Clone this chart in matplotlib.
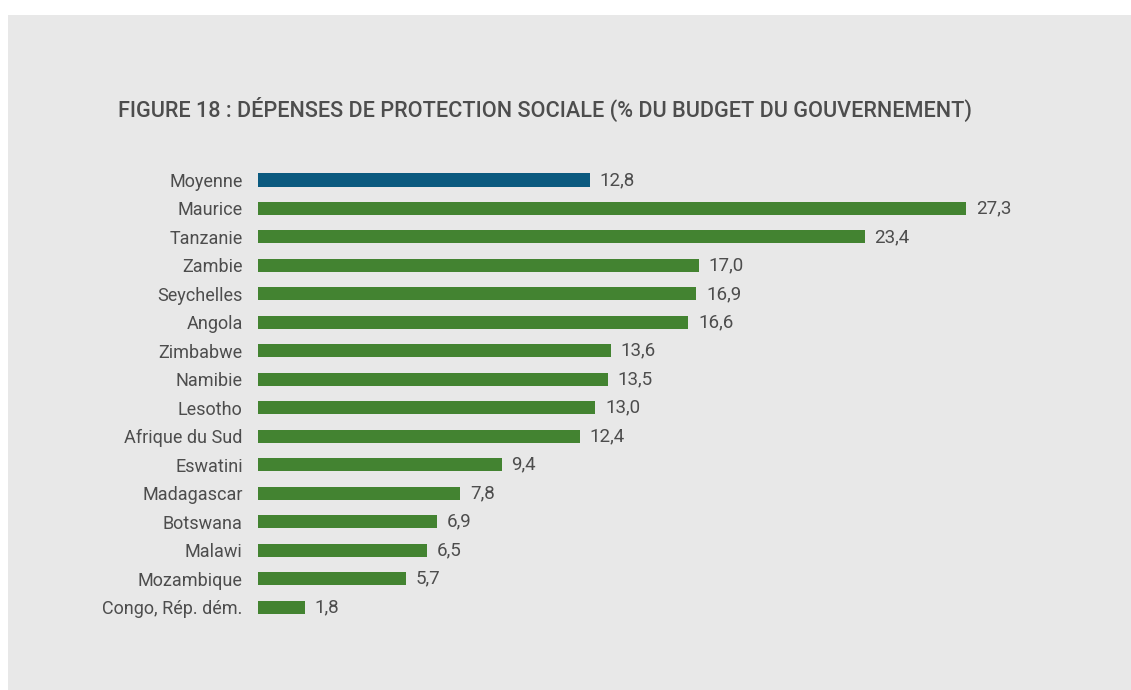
import matplotlib.pyplot as plt
from matplotlib.patches import Rectangle

countries = ["Moyenne", "Maurice", "Tanzanie", "Zambie", "Seychelles", "Angola",
             "Zimbabwe", "Namibie", "Lesotho", "Afrique du Sud", "Eswatini",
             "Madagascar", "Botswana", "Malawi", "Mozambique", "Congo, Rép. dém."]
values = [12.8, 27.3, 23.4, 17.0, 16.9, 16.6, 13.6, 13.5, 13.0, 12.4, 9.4,
          7.8, 6.9, 6.5, 5.7, 1.8]
title = "FIGURE 18 : DÉPENSES DE PROTECTION SOCIALE (% DU BUDGET DU GOUVERNEMENT)"

BLUE = "#0b5a7f"
GREEN = "#438331"
TEXT = "#4d4d4d"
PANEL = "#e8e8e8"

plt.rcParams['font.family'] = ['Roboto', 'DejaVu Sans']

W, H = 1131, 690
fig = plt.figure(figsize=(W / 100, H / 100), dpi=100)
fig.patch.set_facecolor("white")
fig.add_artist(Rectangle((8 / W, 0), 1 - 8 / W, (H - 15) / H,
                         transform=fig.transFigure, facecolor=PANEL,
                         edgecolor="none", zorder=-10))

px_per_unit = 25.93
step = 28.47
left_px, right_px = 258, 1100
top_px = 180 - step / 2
ax = fig.add_axes([left_px / W, (H - (top_px + 16 * step)) / H,
                   (right_px - left_px) / W, 16 * step / H])
ax.set_facecolor("none")
ax.set_xlim(0, (right_px - left_px) / px_per_unit)
ax.set_ylim(15.5, -0.5)

colors = [BLUE] + [GREEN] * (len(values) - 1)
ypos = list(range(len(values)))
ax.barh(ypos, values, height=0.46, color=colors)
for y, v in zip(ypos, values):
    ax.text(v + 0.38, y, f"{v:.1f}".replace(".", ","), va="center", ha="left",
            fontsize=13.5, color=TEXT)

ax.set_yticks(ypos)
ax.set_yticklabels(countries, fontsize=13, color=TEXT)
ax.tick_params(axis="y", length=0, pad=11)
ax.set_xticks([])
for s in ax.spines.values():
    s.set_visible(False)

fig.text(118 / W, 1 - 109 / H, title, fontsize=15.6, color=TEXT, va="center",
         ha="left", fontweight="medium")

fig.savefig("out.png", dpi=100)
